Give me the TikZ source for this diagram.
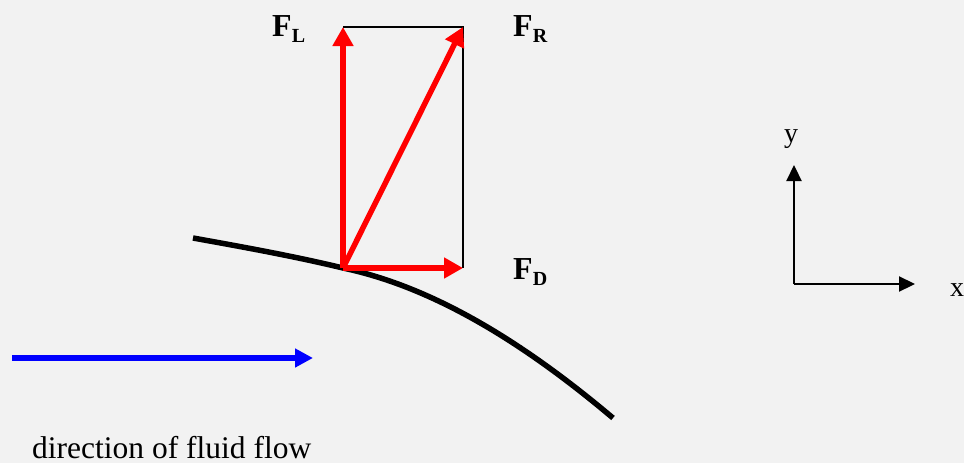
\documentclass[tikz,border=0pt]{standalone}
\usepackage{fontspec}
\setmainfont{Liberation Serif}
\usetikzlibrary{arrows.meta}
\definecolor{bg}{HTML}{F2F2F2}
\newcommand{\force}[1]{\textbf{F}\raisebox{-6.5pt}{\fontsize{20}{20}\selectfont\textbf{#1}}}
\tikzset{
  forcearrow/.style={red, line width=5.5pt, -{Triangle[length=19pt,width=20pt]}},
  flowarrow/.style={blue, line width=5.5pt, -{Triangle[length=18pt,width=18pt]}},
  axisarrow/.style={black, line width=2.2pt, -{Triangle[length=16pt,width=15pt]}},
  boxline/.style={black, line width=1.4pt},
  lbl/.style={font=\fontsize{32}{32}\selectfont, inner sep=0pt, anchor=base west},
}
\begin{document}
\begin{tikzpicture}[x=1pt,y=-1pt]
\fill[bg] (0,0) rectangle (964,463);
\useasboundingbox (0,0) rectangle (964,463);
% points
\coordinate (O) at (343,268);
\coordinate (L) at (343,27);
\coordinate (R) at (463,27);
\coordinate (D) at (463,268);
% rectangle
\draw[boxline] (L) -- (R) -- (D);
% curve
\draw[black, line width=5.5pt] (193,238) .. controls (243,247) and (293,256) .. (O)
  .. controls (433,287) and (523,342) .. (613,418);
% forces
\draw[forcearrow] (O) -- (L);
\draw[forcearrow] (O) -- (R);
\draw[forcearrow] (O) -- (D);
% labels
\node[lbl] (fl) at (272,36) {\force{L}};
\node[lbl] (fr) at (513,36) {\force{R}};
\node[lbl] (fd) at (513,279) {\force{D}};
% flow
\coordinate (fs) at (12,358);
\coordinate (fe) at (313,358);
\draw[flowarrow] (fs) -- (fe);
\node[lbl, font=\fontsize{31.5}{32}\selectfont] (dir) at (32,458) {direction of fluid flow};
% axes
\coordinate (A) at (794,284);
\coordinate (Ay) at (794,165);
\coordinate (Ax) at (915,284);
\draw[axisarrow] (A) -- (Ay);
\draw[axisarrow] (A) -- (Ax);
\node[lbl, font=\fontsize{28}{28}\selectfont] (ylab) at (784,142) {y};
\node[lbl, font=\fontsize{28}{28}\selectfont] (xlab) at (950,296) {x};
\end{tikzpicture}
\end{document}
